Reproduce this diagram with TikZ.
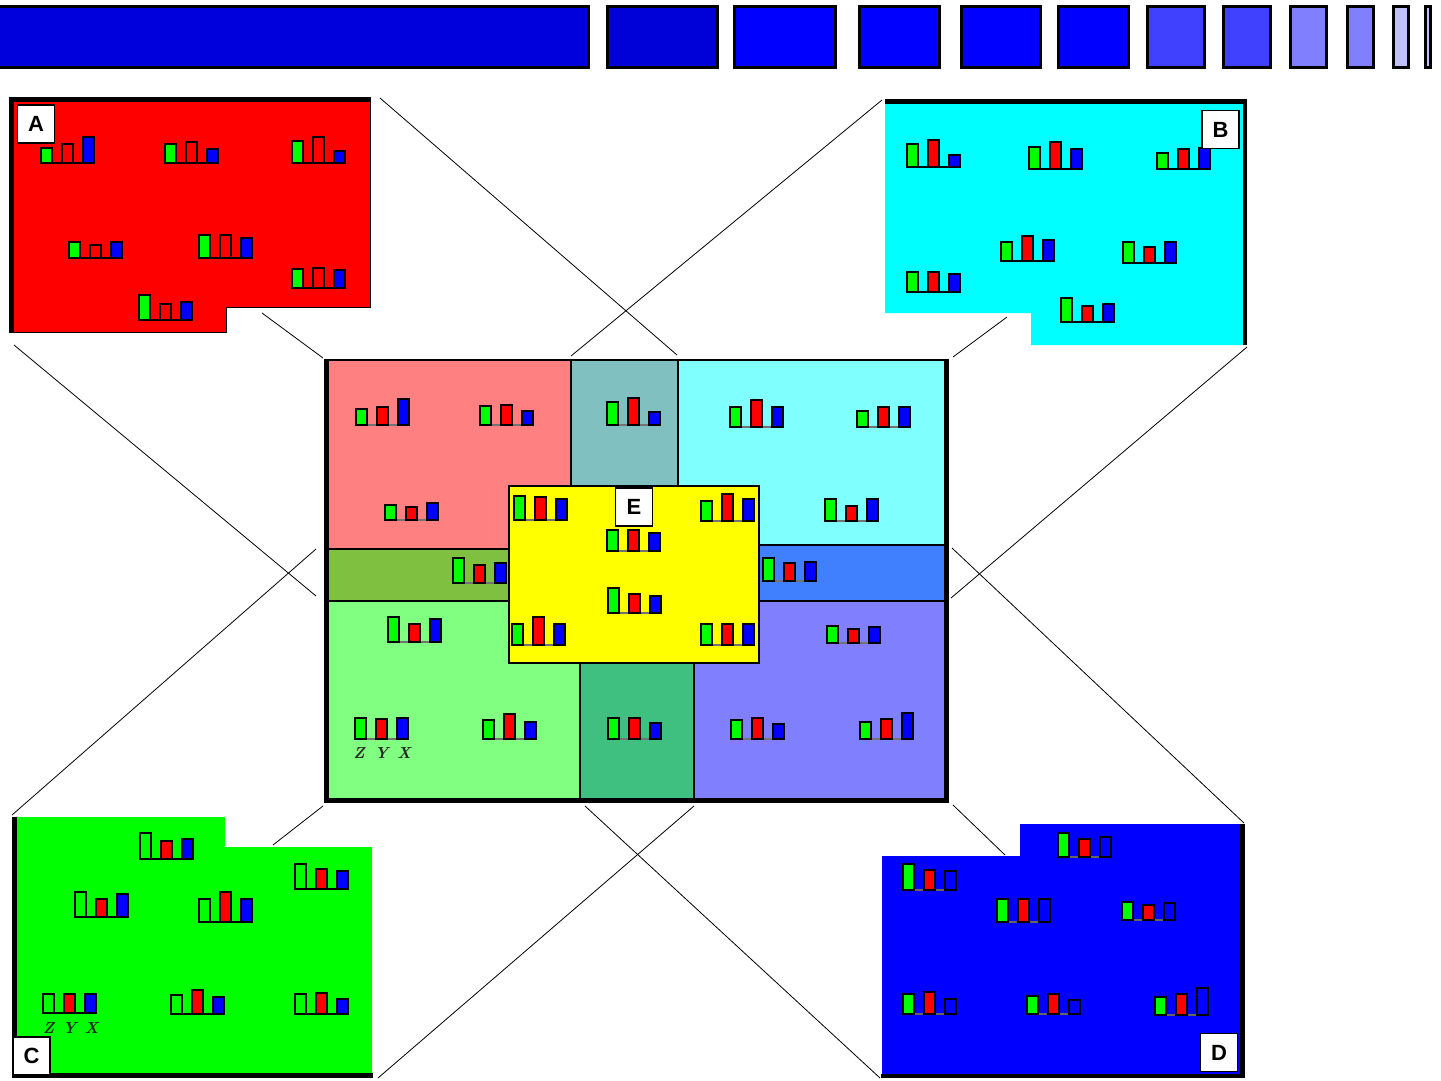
\documentclass[tikz,border=0pt]{standalone}
\usepackage{fontspec}
\setsansfont{Liberation Sans}
\definecolor{tbA}{HTML}{0000DD}
\definecolor{tbB}{HTML}{0000D8}
\definecolor{tbC}{HTML}{0000FF}
\definecolor{tbD}{HTML}{4040FF}
\definecolor{tbE}{HTML}{8080FF}
\definecolor{tbF}{HTML}{C0C0FF}
\definecolor{barG}{HTML}{00FF00}
\definecolor{barR}{HTML}{FF0000}
\definecolor{barB}{HTML}{0000FF}
\definecolor{panA}{HTML}{FF0000}
\definecolor{panB}{HTML}{00FFFF}
\definecolor{panC}{HTML}{00FF00}
\definecolor{panD}{HTML}{0000FF}
\definecolor{rPink}{HTML}{FF8080}
\definecolor{rTeal}{HTML}{80C0C0}
\definecolor{rCyan}{HTML}{80FFFF}
\definecolor{rOlive}{HTML}{80C040}
\definecolor{rSky}{HTML}{4080FF}
\definecolor{rLgreen}{HTML}{80FF80}
\definecolor{rMgreen}{HTML}{40C080}
\definecolor{rPeri}{HTML}{8080FF}
\definecolor{rYellow}{HTML}{FFFF00}
\newcommand{\barchart}[5]{%
  \draw[barbase] (#1-1,#2) -- (#1+54,#2);
  \draw[bar,fill=barG] (#1,#2) rectangle (#1+11,#2-#3);
  \draw[bar,fill=barR] (#1+21,#2) rectangle (#1+32,#2-#4);
  \draw[bar,fill=barB] (#1+42,#2) rectangle (#1+53,#2-#5);
}
\begin{document}
\begin{tikzpicture}[x=1pt,y=-1pt,
  lbl/.style={draw=black, line width=1.4pt, fill=white, minimum width=37pt, minimum height=38pt, inner sep=0pt, font=\sffamily\bfseries\fontsize{22}{22}\selectfont},
  bar/.style={draw=black, line width=1.4pt},
  barbase/.style={draw=black, line width=1.3pt},
  zoomline/.style={draw=black, line width=0.8pt},
  region/.style={draw=black, line width=1.4pt},
  thickedge/.style={draw=black, line width=4.5pt},
  topbox/.style={draw=black, line width=3pt},
  axlbl/.style={font=\bfseries\itshape\fontsize{16}{16}\selectfont, text=black!85, inner sep=0pt}
]
\useasboundingbox (0,0) rectangle (1441,1081);
\fill[white] (0,0) rectangle (1441,1081);

% ---- top bar of boxes ----
\foreach \a/\b/\c in {-4/590/tbA, 606/719/tbB, 733/837/tbC, 858/941/tbC, 960/1042/tbC, 1057/1130/tbC, 1146/1206/tbD, 1222/1272/tbD, 1289/1328/tbE, 1346/1375/tbE, 1392/1410/tbF, 1424/1432/tbF}
  \draw[topbox, fill=\c] (\a+1.5,6.5) rectangle (\b-1.5,67.5);

% ---- panel A ----
\fill[panA] (9,97) -- (370,97) -- (370,307) -- (226,307) -- (226,332) -- (9,332) -- cycle;
\draw[black, line width=1pt] (370,97) -- (370,307) -- (226,307) -- (226,332) -- (9,332);
\draw[thickedge] (11.5,332) -- (11.5,99.5) -- (370,99.5);

% ---- panel B ----
\fill[panB] (885,100) -- (1247,100) -- (1247,345) -- (1031,345) -- (1031,313) -- (885,313) -- cycle;
\draw[thickedge] (885,101.5) -- (1245,101.5) -- (1245,345);

% ---- panel C ----
\fill[panC] (12,817) -- (225,817) -- (225,847) -- (372,847) -- (372,1077) -- (12,1077) -- cycle;
\draw[thickedge] (14.5,817) -- (14.5,1075.5) -- (373,1075.5);

% ---- panel D ----
\fill[panD] (882,856) -- (1020,856) -- (1020,824) -- (1242,824) -- (1242,1076) -- (882,1076) -- cycle;
\draw[thickedge] (1242.5,824) -- (1242.5,1076) -- (881,1076);

% ---- centre map ----
\fill[rPink] (325,360) rectangle (571,549);
\fill[rTeal] (571,360) rectangle (678,549);
\fill[rCyan] (678,360) rectangle (948,545);
\fill[rOlive] (325,549) rectangle (509,601);
\fill[rSky] (759,545) rectangle (948,601);
\fill[rLgreen] (325,601) rectangle (580,802);
\fill[rMgreen] (580,663) rectangle (694,802);
\fill[rPeri] (694,601) rectangle (948,802);
\draw[region] (571,360) -- (571,486);
\draw[region] (678,360) -- (678,486);
\draw[region] (325,549) -- (509,549);
\draw[region] (325,601) -- (509,601);
\draw[region] (759,545) -- (948,545);
\draw[region] (759,601) -- (948,601);
\draw[region] (580,663) -- (580,802);
\draw[region] (694,663) -- (694,802);
\draw[region, fill=rYellow] (509,486) rectangle (759,663);
\draw[black, line width=2pt] (325,360) rectangle (948,802);
\draw[black, line width=4.5pt] (326.5,360) -- (326.5,800) -- (946.5,800) -- (946.5,360);

% ---- zoom connector lines ----
\coordinate (Atr) at (380,98);   \coordinate (Mtc) at (677,355);
\coordinate (Anc) at (262,313);  \coordinate (Mtl) at (323,358);
\coordinate (Abl) at (14,345);   \coordinate (Mlb) at (316,596);
\coordinate (Btl) at (882,100);  \coordinate (Mtp) at (571,356);
\coordinate (Bnc) at (1007,317); \coordinate (Mtr) at (953,357);
\coordinate (Bbr) at (1247,347); \coordinate (Mrb) at (951,598);
\coordinate (Ctl) at (12,815);   \coordinate (Mlt) at (316,549);
\coordinate (Cnc) at (273,845);  \coordinate (Mbl) at (323,806);
\coordinate (Cbr) at (378,1078); \coordinate (Mbr) at (694,806);
\coordinate (Dbl) at (880,1078); \coordinate (Mbm) at (585,806);
\coordinate (Dnc) at (1005,855); \coordinate (Mbx) at (953,805);
\coordinate (Dtr) at (1244,823); \coordinate (Mrt) at (952,548);
\draw[zoomline] (Atr) -- (Mtc);
\draw[zoomline] (Anc) -- (Mtl);
\draw[zoomline] (Abl) -- (Mlb);
\draw[zoomline] (Btl) -- (Mtp);
\draw[zoomline] (Bnc) -- (Mtr);
\draw[zoomline] (Bbr) -- (Mrb);
\draw[zoomline] (Ctl) -- (Mlt);
\draw[zoomline] (Cnc) -- (Mbl);
\draw[zoomline] (Cbr) -- (Mbr);
\draw[zoomline] (Dbl) -- (Mbm);
\draw[zoomline] (Dnc) -- (Mbx);
\draw[zoomline] (Dtr) -- (Mrt);

% ---- bar charts: panel A ----
\barchart{41}{163}{15}{19}{26}
\barchart{165}{163}{19}{21}{14}
\barchart{292}{163}{22}{26}{12}
\barchart{69}{258}{16}{13}{16}
\barchart{199}{258}{23}{23}{20}
\barchart{292}{288}{19}{20}{18}
\barchart{139}{320}{25}{16}{18}

% ---- panel B ----
\barchart{907}{167}{23}{27}{12}
\barchart{1029}{169}{22}{27}{20}
\barchart{1157}{169}{16}{20}{21}
\barchart{1001}{261}{19}{25}{21}
\barchart{1123}{263}{21}{16}{21}
\barchart{907}{292}{20}{20}{18}
\barchart{1061}{322}{24}{16}{18}

% ---- panel C ----
\barchart{140}{859}{26}{18}{20}
\barchart{295}{889}{25}{20}{18}
\barchart{75}{917}{25}{18}{23}
\barchart{199}{922}{23}{30}{23}
\barchart{43}{1013}{19}{19}{19}
\barchart{171}{1014}{19}{24}{17}
\barchart{295}{1014}{20}{21}{15}

% ---- panel D ----
\begin{scope}[barbase/.style={draw=black!60, line width=1.3pt}]
\barchart{1058}{857}{24}{18}{20}
\barchart{903}{890}{26}{20}{19}
\barchart{997}{922}{23}{23}{23}
\barchart{1122}{920}{18}{15}{17}
\barchart{903}{1014}{20}{22}{15}
\barchart{1027}{1014}{18}{20}{14}
\barchart{1155}{1015}{18}{21}{27}
\end{scope}

% ---- centre ----
\begin{scope}[barbase/.style={draw=black!55, line width=1.3pt}]
\barchart{356}{425}{16}{18}{26}
\barchart{480}{425}{19}{20}{14}
\barchart{385}{520}{15}{13}{17}
\barchart{607}{425}{23}{27}{13}
\barchart{730}{427}{20}{27}{20}
\barchart{857}{427}{16}{20}{20}
\barchart{825}{521}{22}{15}{22}
\barchart{763}{581}{23}{18}{19}
\barchart{453}{583}{25}{18}{20}
\barchart{514}{520}{24}{23}{21}
\barchart{701}{521}{20}{27}{22}
\barchart{607}{551}{21}{21}{18}
\barchart{608}{613}{25}{19}{17}
\barchart{512}{645}{21}{28}{21}
\barchart{701}{645}{21}{21}{21}
\barchart{388}{642}{25}{18}{23}
\barchart{355}{739}{21}{20}{21}
\barchart{483}{739}{19}{25}{17}
\barchart{608}{739}{21}{21}{16}
\barchart{827}{643}{17}{14}{16}
\barchart{731}{739}{19}{21}{15}
\barchart{860}{739}{17}{20}{26}
\end{scope}

% ---- axis letters ----
\node[axlbl] (cz) at (48.5,1028) {Z};
\node[axlbl] (cy) at (69.5,1028) {Y};
\node[axlbl] (cx) at (91.5,1028) {X};
\node[axlbl] (mz) at (359,753) {Z};
\node[axlbl] (my) at (381.5,753) {Y};
\node[axlbl] (mx) at (404,753) {X};

% ---- labels ----
\node[lbl] (labA) at (36,124) {A};
\node[lbl] (labB) at (1220.5,129.5) {B};
\node[lbl] (labC) at (31.5,1056) {C};
\node[lbl] (labD) at (1219,1052.5) {D};
\node[lbl] (labE) at (634,507) {E};
\end{tikzpicture}
\end{document}
